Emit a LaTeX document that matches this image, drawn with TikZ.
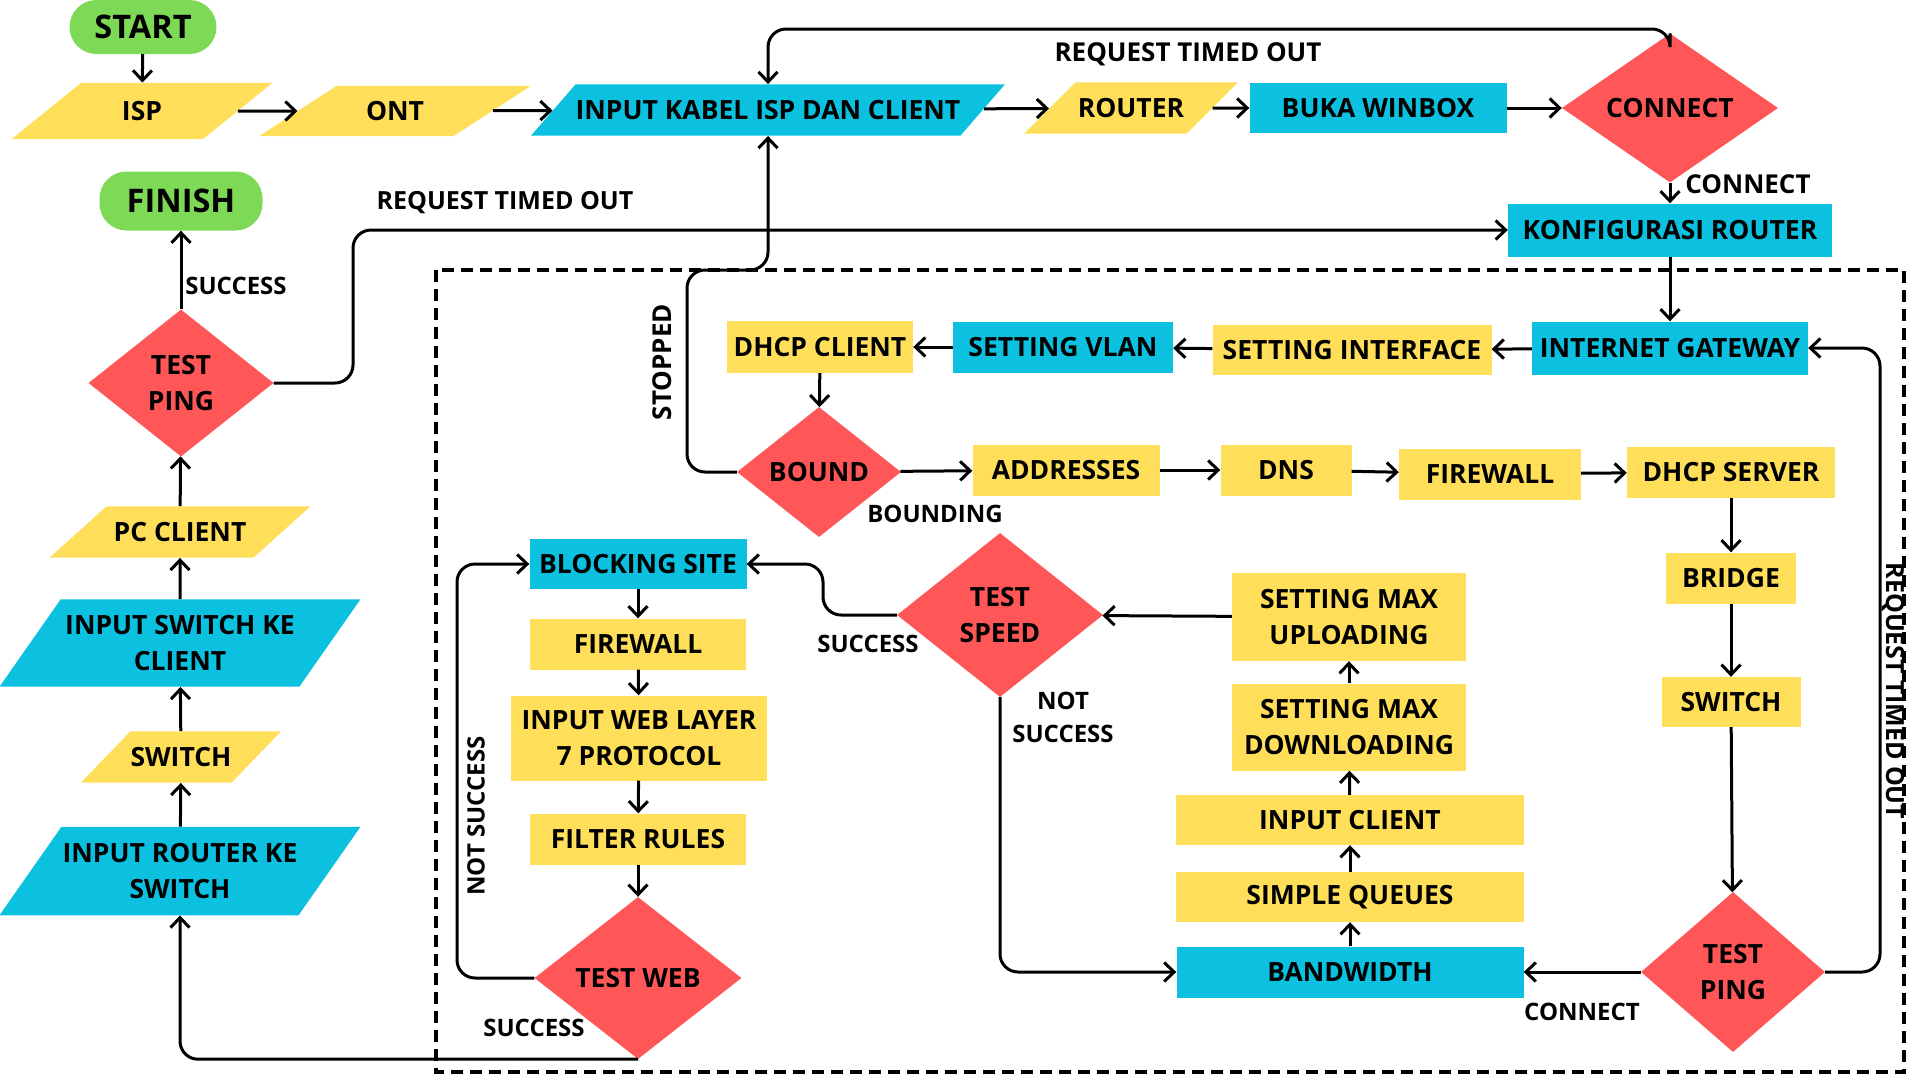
\documentclass[tikz,border=0pt]{standalone}
\usepackage{fontspec}
\setmainfont{Open Sans}
\usetikzlibrary{shapes.geometric,arrows.meta}
\definecolor{flowyellow}{HTML}{FFDE59}
\definecolor{flowblue}{HTML}{0CC0DF}
\definecolor{flowred}{HTML}{FF5757}
\definecolor{flowgreen}{HTML}{7ED957}

\begin{document}
\begin{tikzpicture}[x=1pt,y=-1pt,
    font=\fontsize{26.5}{36}\selectfont\bfseries,
    dims/.style 2 args={minimum width=#1pt,minimum height=#2pt},
    slant dims/.style 2 args={minimum width=#1pt,inner ysep=#2pt},
    box node/.style={rectangle,fill=flowyellow,inner sep=0pt,align=center},
    blue node/.style={box node,fill=flowblue},
    data node/.style={trapezium,trapezium stretches body,trapezium left angle=#1,
        trapezium right angle=180-#1,fill=flowyellow,inner xsep=0pt,align=center},
    data node/.default=45,
    choice node/.style={diamond,fill=flowred,inner sep=0pt,align=center},
    end node/.style={rectangle,rounded corners=27pt,fill=flowgreen,inner sep=0pt,
        font=\fontsize{32.5}{38}\selectfont\bfseries},
    flow label/.style={inner sep=0pt,align=center,font=\fontsize{24}{33}\selectfont\bfseries},
    big label/.style={flow label,font=\fontsize{26}{33}\selectfont\bfseries},
    flow arrow/.style={-{Straight Barb[length=10pt,width=19pt]},line width=3pt,rounded corners=18pt}]

    \useasboundingbox (0,0) rectangle (1920,1080);

    % Configuration area
    \draw[line width=3.3pt,dash pattern=on 12pt off 7pt] (436,270) rectangle (1904,1072);

    % Define vertices
    \node[end node,dims={147}{54}] (start) at (143,27) {START};
    \node[data node=39,slant dims={261}{18.5}] (isp) at (142,111) {ISP};
    \node[data node=33,slant dims={272}{15.5}] (ont) at (395,111) {ONT};
    \node[data node=49,fill=flowblue,slant dims={466}{16}] (kabel) at (768,110) {INPUT KABEL ISP DAN CLIENT};
    \node[data node=45,slant dims={214}{16}] (router) at (1131,108) {ROUTER};
    \node[blue node,dims={257}{50}] (winbox) at (1378,108) {BUKA WINBOX};
    \node[choice node,dims={216}{149}] (connect) at (1670,108) {CONNECT};
    \node[blue node,dims={324}{53}] (konfig) at (1670,230) {KONFIGURASI ROUTER};

    \node[end node,dims={163}{59}] (finish) at (181,201) {FINISH};
    \node[choice node,dims={185}{147}] (pingL) at (181,383) {TEST\\PING};
    \node[data node=42,slant dims={261}{16}] (pc) at (180,532) {PC CLIENT};
    \node[data node=55,fill=flowblue,slant dims={361}{16}] (swclient) at (180,643) {INPUT SWITCH KE\\CLIENT};
    \node[data node=46,slant dims={198}{16}] (switchL) at (181,757) {SWITCH};
    \node[data node=55,fill=flowblue,slant dims={361}{16.5}] (routersw) at (180,871) {INPUT ROUTER KE\\SWITCH};

    \node[blue node,dims={276}{53}] (gateway) at (1670,348) {INTERNET GATEWAY};
    \node[box node,dims={279}{50}] (iface) at (1352,350) {SETTING INTERFACE};
    \node[blue node,dims={220}{51}] (vlan) at (1063,347) {SETTING VLAN};
    \node[box node,dims={186}{52}] (dhcpc) at (820,347) {DHCP CLIENT};
    \node[choice node,dims={164}{130}] (bound) at (819,472) {BOUND};
    \node[box node,dims={187}{51}] (addr) at (1066,470) {ADDRESSES};
    \node[box node,dims={131}{51}] (dns) at (1286,470) {DNS};
    \node[box node,dims={182}{51}] (fwR) at (1490,474) {FIREWALL};
    \node[box node,dims={208}{51}] (dhcps) at (1731,472) {DHCP SERVER};
    \node[box node,dims={130}{51}] (bridge) at (1731,578) {BRIDGE};
    \node[box node,dims={139}{50}] (switchR) at (1731,702) {SWITCH};
    \node[choice node,dims={184}{160}] (pingR) at (1733,972) {TEST\\PING};

    \node[blue node,dims={347}{51}] (bw) at (1350,972) {BANDWIDTH};
    \node[box node,dims={348}{50}] (queues) at (1350,897) {SIMPLE QUEUES};
    \node[box node,dims={348}{50}] (client) at (1350,820) {INPUT CLIENT};
    \node[box node,dims={234}{87}] (down) at (1349,727) {SETTING MAX\\DOWNLOADING};
    \node[box node,dims={234}{88}] (up) at (1349,617) {SETTING MAX\\UPLOADING};
    \node[choice node,dims={206}{164}] (speed) at (1000,615) {TEST\\SPEED};

    \node[blue node,dims={217}{50}] (blocking) at (638,564) {BLOCKING SITE};
    \node[box node,dims={216}{51}] (fwL) at (638,644) {FIREWALL};
    \node[box node,dims={256}{85}] (layer7) at (639,738) {INPUT WEB LAYER\\7 PROTOCOL};
    \node[box node,dims={216}{51}] (filter) at (638,839) {FILTER RULES};
    \node[choice node,dims={207}{162}] (web) at (638,978) {TEST WEB};

    % Labels
    \node[big label] (lbltop) at (1188,54) {REQUEST TIMED OUT};
    \node[big label] (lblconnect) at (1748,184) {CONNECT};
    \node[big label,font=\fontsize{25}{33}\selectfont\bfseries] (lblleft) at (505,203) {REQUEST TIMED OUT};
    \node[flow label] (lblfinish) at (236,286) {SUCCESS};
    \node[big label,rotate=90] (lblstop) at (662,362) {STOPPED};
    \node[flow label] (lblbound) at (935,514) {BOUNDING};
    \node[flow label] (lblspeed) at (868,644) {SUCCESS};
    \node[flow label] (lblnot) at (1063,717) {NOT\\SUCCESS};
    \node[big label,font=\fontsize{25}{33}\selectfont\bfseries,rotate=-90] (lblright) at (1893,691) {REQUEST TIMED OUT};
    \node[flow label] (lblping) at (1582,1012) {CONNECT};
    \node[flow label,rotate=90] (lblweb) at (476,816) {NOT SUCCESS};
    \node[flow label] (lblsuccess) at (534,1028) {SUCCESS};

    % Edges
    \draw[flow arrow] (start) -- (isp);
    \draw[flow arrow] (isp) -- (ont);
    \draw[flow arrow] (ont) -- (kabel);
    \draw[flow arrow] (kabel) -- (router);
    \draw[flow arrow] (router) -- (winbox);
    \draw[flow arrow] (winbox) -- (connect);
    \draw[flow arrow] (connect.north) -- (1670,29) -| (kabel.north);
    \draw[flow arrow] (connect) -- (konfig);
    \draw[flow arrow] (konfig) -- (gateway);
    \draw[flow arrow] (gateway) -- (iface);
    \draw[flow arrow] (iface) -- (vlan);
    \draw[flow arrow] (vlan) -- (dhcpc);
    \draw[flow arrow] (dhcpc) -- (bound);
    \draw[flow arrow] (bound.west) -| (687,270) -| (kabel.south);
    \draw[flow arrow] (bound) -- (addr);
    \draw[flow arrow] (addr) -- (dns);
    \draw[flow arrow] (dns) -- (fwR);
    \draw[flow arrow] (fwR) -- (dhcps);
    \draw[flow arrow] (dhcps) -- (bridge);
    \draw[flow arrow] (bridge) -- (switchR);
    \draw[flow arrow] (switchR) -- (pingR);
    \draw[flow arrow] (pingR.east) -| (1880,348) -- (gateway.east);
    \draw[flow arrow] (pingR) -- (bw);
    \draw[flow arrow] (bw) -- (queues);
    \draw[flow arrow] (queues) -- (client);
    \draw[flow arrow] (client) -- (down);
    \draw[flow arrow] (down) -- (up);
    \draw[flow arrow] (up) -- (speed);
    \draw[flow arrow] (speed.west) -| (823,564) -- (blocking.east);
    \draw[flow arrow] (speed.south) |- (bw.west);
    \draw[flow arrow] (blocking) -- (fwL);
    \draw[flow arrow] (fwL) -- (layer7);
    \draw[flow arrow] (layer7) -- (filter);
    \draw[flow arrow] (filter) -- (web);
    \draw[flow arrow] (web.west) -| (457,564) -- (blocking.west);
    \draw[flow arrow] (web.south) -| (routersw.south);
    \draw[flow arrow] (routersw) -- (switchL);
    \draw[flow arrow] (switchL) -- (swclient);
    \draw[flow arrow] (swclient) -- (pc);
    \draw[flow arrow] (pc) -- (pingL);
    \draw[flow arrow] (pingL) -- (finish);
    \draw[flow arrow] (pingL.east) -| (353,230) -- (konfig.west);

\end{tikzpicture}
\end{document}
